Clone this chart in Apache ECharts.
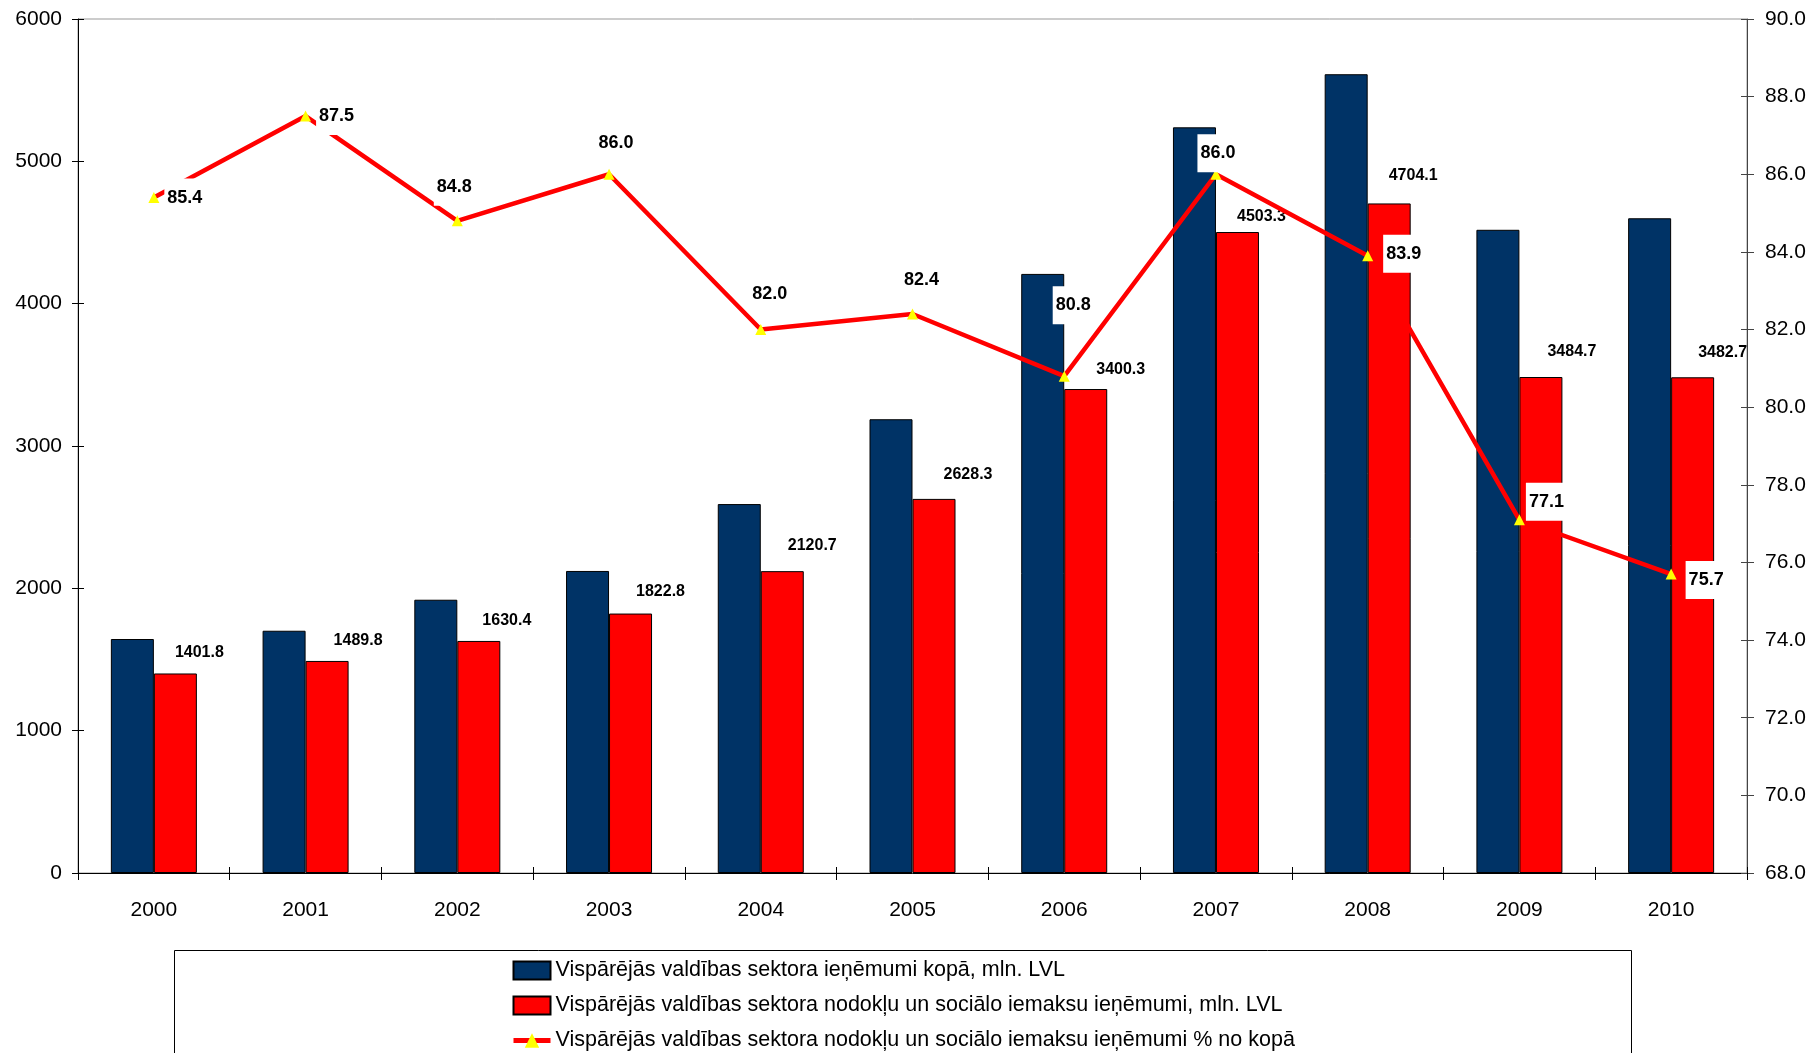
<!DOCTYPE html>
<html>
<head>
<meta charset="utf-8">
<script src="https://cdn.jsdelivr.net/npm/echarts@6/dist/echarts.min.js"></script>
<style>html,body{margin:0;padding:0;background:#fff}#c{width:1812px;height:1053px}</style>
</head>
<body>
<div id="c"></div>
<script>
const years = ['2000','2001','2002','2003','2004','2005','2006','2007','2008','2009','2010'];
const totalRevenue = [1644, 1702, 1920, 2122, 2592, 3188, 4209, 5239, 5612, 4519, 4600];
const taxRevenue = [1401.8, 1489.8, 1630.4, 1822.8, 2120.7, 2628.3, 3400.3, 4503.3, 4704.1, 3484.7, 3482.7];
const taxShare = [85.4, 87.5, 84.8, 86.0, 82.0, 82.4, 80.8, 86.0, 83.9, 77.1, 75.7];
const seriesNames = [
  'Vispārējās valdības sektora ieņēmumi kopā, mln. LVL',
  'Vispārējās valdības sektora nodokļu un sociālo iemaksu ieņēmumi, mln. LVL',
  'Vispārējās valdības sektora nodokļu un sociālo iemaksu ieņēmumi % no kopā'
];
// label placement (style only)
const barLabelOffsets = [[24,-21],[31,-20],[28,-20],[30,-22],[30,-26],[34,-24],[35,-19],[24,-15],[24,-28],[31,-25],[30,-25]];
const lineLabelOffsets = [[31,0],[31,0],[-3,-34],[7,-31],[9,-36],[9,-34],[9,-71],[2,-21],[36,-2],[27,-18],[35,6]];

const FONT = 'Liberation Sans, Arial, sans-serif';
const chart = echarts.init(document.getElementById('c'));

const barData = taxRevenue.map((v, i) => ({
  value: v,
  label: { offset: barLabelOffsets[i] }
}));
const lineData = taxShare.map((v, i) => ({
  value: v,
  label: { offset: lineLabelOffsets[i] }
}));

const option = {
  animation: false,
  backgroundColor: '#fff',
  textStyle: { fontFamily: FONT },
  grid: { left: 78, right: 65, top: 19, bottom: 180, show: true, borderColor: '#999', borderWidth: 1, backgroundColor: 'transparent' },
  legend: {
    orient: 'vertical', left: 511, top: 959, itemGap: 12, padding: 0,
    itemWidth: 37, itemHeight: 18,
    textStyle: { fontFamily: FONT, fontSize: 21.5, lineHeight: 23, color: '#000' },
    lineStyle: { width: 5 },
    data: [
      { name: seriesNames[0], icon: 'rect' },
      { name: seriesNames[1], icon: 'rect' },
      { name: seriesNames[2] }
    ]
  },
  graphic: [{
    type: 'rect', left: 172, top: 948, silent: true,
    shape: { width: 1457, height: 130 },
    style: { fill: 'none', stroke: '#000', lineWidth: 1 }, z: -1
  }],
  xAxis: [{
    type: 'category', data: years, boundaryGap: true,
    axisLine: { lineStyle: { color: '#000', width: 1 } },
    axisTick: { show: true, length: 7, lineStyle: { color: '#000' } },
    axisLabel: { color: '#000', fontSize: 21, fontFamily: FONT, margin: 27 },
    splitLine: { show: false }
  }, {
    type: 'category', data: years, boundaryGap: true, position: 'bottom',
    axisLine: { show: false },
    axisTick: { show: true, inside: true, length: 6, lineStyle: { color: '#000' } },
    axisLabel: { show: false }, splitLine: { show: false }
  }],
  yAxis: [{
    type: 'value', min: 0, max: 6000, interval: 1000, position: 'left',
    axisLine: { show: true, lineStyle: { color: '#000', width: 1 } },
    axisTick: { show: true, length: 6, lineStyle: { color: '#000' } },
    axisLabel: { color: '#000', fontSize: 21, fontFamily: FONT, margin: 16, formatter: v => String(v) },
    splitLine: { show: false }
  }, {
    type: 'value', min: 68, max: 90, interval: 2, position: 'right',
    axisLine: { show: true, lineStyle: { color: '#444', width: 1 } },
    axisTick: { show: true, length: 7, lineStyle: { color: '#444' } },
    axisLabel: { color: '#000', fontSize: 21, fontFamily: FONT, margin: 18, formatter: v => v.toFixed(1) },
    splitLine: { show: false }
  }, {
    type: 'value', min: 0, max: 6000, interval: 1000, position: 'left',
    axisLine: { show: false },
    axisTick: { show: true, inside: true, length: 6, lineStyle: { color: '#000' } },
    axisLabel: { show: false }, splitLine: { show: false }
  }, {
    type: 'value', min: 68, max: 90, interval: 2, position: 'right',
    axisLine: { show: false },
    axisTick: { show: true, inside: true, length: 6, lineStyle: { color: '#444' } },
    axisLabel: { show: false }, splitLine: { show: false }
  }],
  series: [{
    name: seriesNames[0], type: 'bar', data: totalRevenue,
    xAxisIndex: 0, yAxisIndex: 0,
    barWidth: 43, barGap: '0%',
    itemStyle: { color: '#003366', borderColor: '#000', borderWidth: 1 }
  }, {
    name: seriesNames[1], type: 'bar', data: barData,
    xAxisIndex: 0, yAxisIndex: 0,
    barWidth: 43, barGap: '0%',
    itemStyle: { color: '#FF0000', borderColor: '#000', borderWidth: 1 },
    label: {
      show: true, position: ['50%', 0], align: 'center', verticalAlign: 'middle',
      fontSize: 16, fontWeight: 'bold', color: '#000', fontFamily: FONT,
      formatter: p => p.value.toFixed(1)
    }
  }, {
    name: seriesNames[2], type: 'line', data: lineData,
    xAxisIndex: 0, yAxisIndex: 1, z: 5,
    symbol: 'triangle', symbolSize: 11, showAllSymbol: true,
    lineStyle: { color: '#FF0000', width: 4.5 },
    itemStyle: { color: '#FFFF00', borderWidth: 0 },
    label: {
      show: true, position: 'inside', align: 'center', verticalAlign: 'middle',
      fontSize: 18, fontWeight: 'bold', color: '#000', fontFamily: FONT,
      backgroundColor: '#fff', padding: [10, 3],
      formatter: p => p.value.toFixed(1)
    },
    emphasis: { disabled: true }
  }]
};
chart.setOption(option);
</script>
</body>
</html>
